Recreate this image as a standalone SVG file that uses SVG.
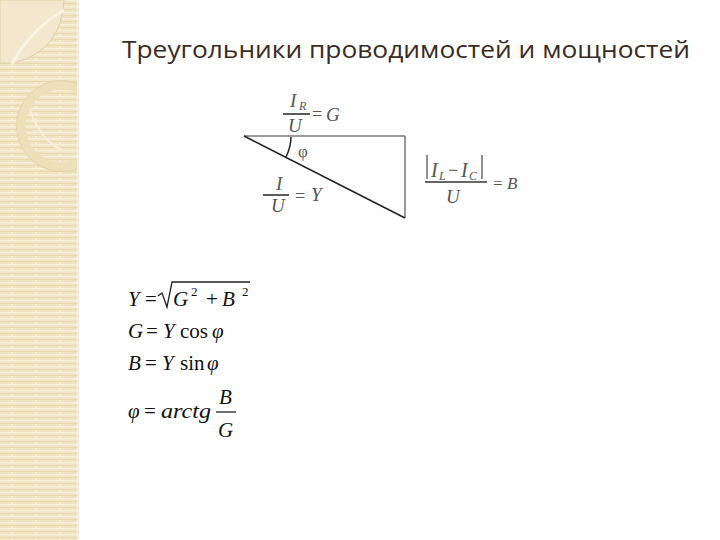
<svg xmlns="http://www.w3.org/2000/svg" width="720" height="540" viewBox="0 0 720 540">
<defs>
<pattern id="stripes" x="0" y="0" width="24" height="6" patternUnits="userSpaceOnUse">
<rect width="24" height="6" fill="#f1e3c2"/>
<rect y="0" width="24" height="1.5" fill="#f8efd8"/>
<rect y="3" width="24" height="1" fill="#e9d9b2"/>
<rect x="11" y="4" width="2" height="2" fill="#f7edd5"/>
</pattern>
<clipPath id="strip"><rect x="0" y="0" width="79" height="540"/></clipPath>
<style>
.title{font-family:"Open Sans","Noto Sans",sans-serif;fill:#3a2b25}
.m{font-family:"Liberation Serif",serif;font-style:italic;fill:#555}
.mu{font-family:"Liberation Serif",serif;fill:#555}
.f{font-family:"Liberation Serif",serif;font-style:italic;fill:#111}
.fu{font-family:"Liberation Serif",serif;fill:#111}
.frac{stroke:#333;stroke-width:1.6}
</style>
</defs>
<rect width="720" height="540" fill="#ffffff"/>
<g id="background" clip-path="url(#strip)">
<rect x="0" y="0" width="79" height="540" fill="url(#stripes)"/>
<path d="M0,0 H64 Q62,50 14,63 H0 Z" fill="#f3e8cd" stroke="#e0cfa8" stroke-width="1"/>
<path d="M12,64 Q30,30 64,10" fill="none" stroke="#fbf5e6" stroke-width="3"/>
<circle cx="62" cy="126" r="41" fill="none" stroke="#ecdfba" stroke-width="9"/>
<circle cx="62" cy="126" r="45.5" fill="none" stroke="#e3d2a8" stroke-width="1"/>
<path d="M30,110 Q40,140 62,150" fill="none" stroke="#f8f0dc" stroke-width="2"/>
<rect x="77" y="0" width="2" height="540" fill="#f6eedb"/>
</g>
<text class="title" x="122" y="58" font-size="23" textLength="568" lengthAdjust="spacingAndGlyphs">Треугольники проводимостей и мощностей</text>
<g id="triangle">
<line x1="244" y1="136" x2="405" y2="136" stroke="#777" stroke-width="1.5"/>
<line x1="405" y1="136" x2="405" y2="218" stroke="#777" stroke-width="1.5"/>
<line x1="244" y1="136" x2="405" y2="218" stroke="#222" stroke-width="1.6"/>
<path d="M291,137 A47,47 0 0 1 286,157" fill="none" stroke="#222" stroke-width="1.5"/>
<text class="mu" x="298" y="157" font-size="17">φ</text>
</g>
<g id="label-G">
<text class="m" x="290" y="107" font-size="19">I</text>
<text class="m" x="299" y="110" font-size="12">R</text>
<line class="frac" x1="283" y1="114" x2="310" y2="114"/>
<text class="m" x="288" y="132" font-size="19">U</text>
<text class="mu" x="312" y="120" font-size="18">=</text>
<text class="m" x="326" y="121" font-size="19">G</text>
</g>
<g id="label-Y">
<text class="m" x="276" y="190" font-size="19">I</text>
<line class="frac" x1="263" y1="195" x2="289" y2="195"/>
<text class="m" x="271" y="212" font-size="19">U</text>
<text class="mu" x="295" y="202" font-size="18">=</text>
<text class="m" x="311" y="201" font-size="19">Y</text>
</g>
<g id="label-B">
<line x1="427" y1="155" x2="427" y2="179" stroke="#555" stroke-width="1.3"/>
<text class="m" x="431" y="177" font-size="20">I</text>
<text class="m" x="439" y="180" font-size="12">L</text>
<text class="mu" x="448" y="176" font-size="18">−</text>
<text class="m" x="461" y="177" font-size="20">I</text>
<text class="m" x="469" y="180" font-size="12">C</text>
<line x1="482" y1="155" x2="482" y2="179" stroke="#555" stroke-width="1.3"/>
<line class="frac" x1="425" y1="182" x2="487" y2="182"/>
<text class="m" x="446" y="203" font-size="19">U</text>
<text class="mu" x="493" y="189" font-size="17">=</text>
<text class="m" x="507" y="189" font-size="17">B</text>
</g>
<g id="formulas">
<text class="f" x="128" y="306" font-size="21">Y</text>
<text class="fu" x="145" y="306" font-size="21">=</text>
<path d="M158,296 L162,293 L167,307 L172,282 L250,282" fill="none" stroke="#222" stroke-width="1.3"/>
<text class="f" x="173" y="306" font-size="21">G</text>
<text class="fu" x="191" y="296" font-size="13">2</text>
<text class="fu" x="206" y="306" font-size="21">+</text>
<text class="f" x="222" y="306" font-size="21">B</text>
<text class="fu" x="242" y="296" font-size="13">2</text>
<text class="f" x="128" y="338" font-size="21">G</text>
<text class="fu" x="146" y="338" font-size="21">=</text>
<text class="f" x="163" y="338" font-size="21">Y</text>
<text class="fu" x="180" y="338" font-size="21">cos</text>
<text class="f" x="212" y="338" font-size="21">φ</text>
<text class="f" x="128" y="370" font-size="21">B</text>
<text class="fu" x="145" y="370" font-size="21">=</text>
<text class="f" x="162" y="370" font-size="21">Y</text>
<text class="fu" x="180" y="370" font-size="21">sin</text>
<text class="f" x="207" y="370" font-size="21">φ</text>
<text class="f" x="128" y="418" font-size="21">φ</text>
<text class="fu" x="144" y="418" font-size="21">=</text>
<text class="f" x="161" y="418" font-size="22" textLength="50" lengthAdjust="spacingAndGlyphs">arctg</text>
<text class="f" x="219" y="404" font-size="21">B</text>
<line x1="216" y1="412" x2="236" y2="412" stroke="#111" stroke-width="1.2"/>
<text class="f" x="218" y="437" font-size="21">G</text>
</g>
</svg>
